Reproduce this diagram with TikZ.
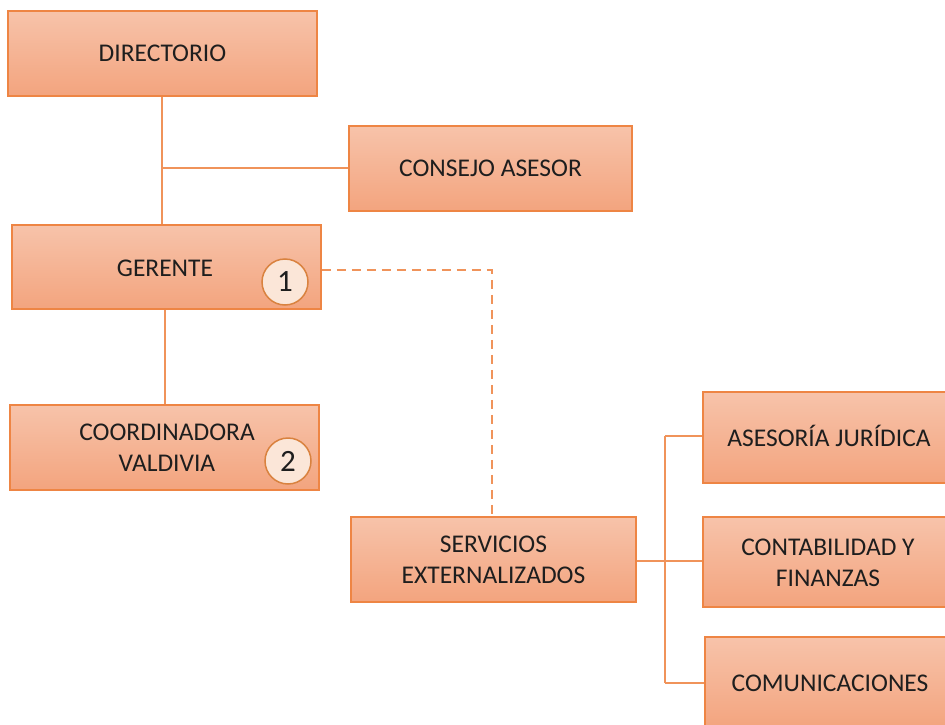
\documentclass[tikz,border=0pt]{standalone}
\usepackage{fontspec}
\setmainfont{Carlito}
\definecolor{boxtop}{HTML}{F7C3AA}
\definecolor{boxbot}{HTML}{F3A47E}
\definecolor{boxline}{HTML}{EE8544}
\definecolor{conn}{HTML}{F0935A}
\definecolor{circfill}{HTML}{FBE6D8}
\definecolor{circline}{HTML}{D9823F}
\definecolor{txt}{HTML}{1E1E1E}
\begin{document}
\begin{tikzpicture}[x=1pt,y=-1pt,
  lbl/.style={text=txt, align=center, font=\fontsize{25.5}{31}\selectfont},
  orgbox/.style={draw=boxline, line width=1.5pt, top color=boxtop, bottom color=boxbot,
    lbl, inner sep=0pt},
  badge/.style={circle, draw=circline, line width=1.5pt, fill=circfill, minimum size=46pt,
    inner sep=0pt, text=txt, font=\fontsize{31}{34}\selectfont},
  link/.style={draw=conn, line width=1.5pt},
  dlink/.style={draw=conn, line width=1.5pt, dash pattern=on 9pt off 6pt}]
\useasboundingbox (0,0) rectangle (945,725);
\node[orgbox, minimum width=309pt, minimum height=85pt] (dir) at (162.5,53.5) {DIRECTORIO};
\node[orgbox, minimum width=283pt, minimum height=85pt] (cons) at (490.5,168.5) {CONSEJO ASESOR};
\node[orgbox, minimum width=309pt, minimum height=84pt] (ger) at (166.5,267) {};
\node[lbl] (gert) at (165,268) {GERENTE};
\node[orgbox, minimum width=309pt, minimum height=85pt] (coord) at (164.5,447.5) {};
\node[lbl] (coordt) at (167,447.5) {COORDINADORA\\VALDIVIA};
\node[badge] (b1) at (285,282) {1};
\node[badge] (b2) at (288,461) {2};
\node[orgbox, minimum width=285pt, minimum height=85pt] (serv) at (493.5,559.5) {SERVICIOS\\EXTERNALIZADOS};
\node[orgbox, minimum width=260pt, minimum height=91pt] (jur) at (833,437.5) {};
\node[lbl] (jurt) at (829,436) {ASESORÍA JURÍDICA};
\node[orgbox, minimum width=260pt, minimum height=90pt] (cont) at (833,562) {};
\node[lbl] (contt) at (828,563) {CONTABILIDAD Y\\FINANZAS};
\node[orgbox, minimum width=260pt, minimum height=92pt] (com) at (835,683) {};
\node[lbl] (comt) at (830,683) {COMUNICACIONES};
\coordinate (j1) at (162,168);
\coordinate (dt) at (492,270);
\coordinate (hs) at (0,561);
\coordinate (vt) at (665,436);
\coordinate (vb) at (665,683);
\draw[link] (dir.south -| j1) -- (ger.north -| j1);
\draw[link] (j1) -- (cons.west |- j1);
\draw[link] (ger.south -| 165,0) -- (coord.north -| 165,0);
\draw[dlink] (ger.east |- dt) -- (dt) -- (serv.north -| dt);
\draw[link] (serv.east |- hs) -- (cont.west |- hs);
\draw[link] (vt) -- (vb);
\draw[link] (vt) -- (jur.west |- vt);
\draw[link] (vb) -- (com.west |- vb);
\end{tikzpicture}
\end{document}
